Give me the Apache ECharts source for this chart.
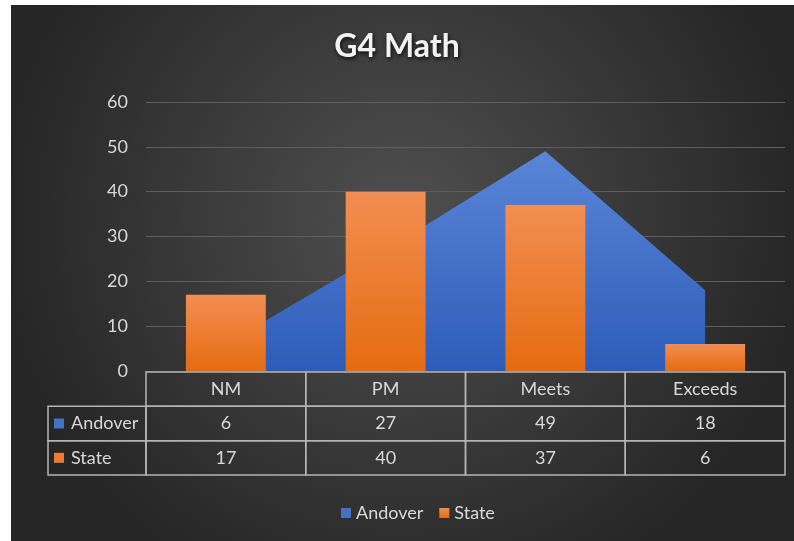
<!DOCTYPE html>
<html>
<head>
<meta charset="utf-8">
<script src="https://cdn.jsdelivr.net/npm/echarts@6/dist/echarts.min.js"></script>
<style>
  html, body { margin: 0; padding: 0; background: #fff; }
  #chart { width: 794px; height: 541px; }
</style>
</head>
<body>
<div id="chart"></div>
<script>
// data
var categories = ['NM', 'PM', 'Meets', 'Exceeds'];
var andover = [6, 27, 49, 18];
var state = [17, 40, 37, 6];
var seriesNames = ['Andover', 'State'];
var seriesColors = ['#4472c4', '#ed7d31'];

var txt = '#d9d9d9';
var font = 'Lato';
var border = '#b4b4b4';

// table cells: row 0 = header, row 1 = Andover, row 2 = State
var cells = [];
categories.forEach(function (c, i) {
  cells.push([i, 0, c]);
  cells.push([i, 1, String(andover[i])]);
  cells.push([i, 2, String(state[i])]);
});
// row label cells sit left of column 0
cells.push([0, 1, seriesNames[0], 'label']);
cells.push([0, 2, seriesNames[1], 'label']);

var chart = echarts.init(document.getElementById('chart'));

chart.setOption({
  backgroundColor: '#fff',
  textStyle: { fontFamily: font },
  graphic: [{
    type: 'rect',
    z: -10,
    silent: true,
    shape: { x: 11, y: 5, width: 783, height: 536 },
    style: {
      fill: new echarts.graphic.RadialGradient(0.5, 0.4, 0.75, [
        { offset: 0, color: '#4f4f4f' },
        { offset: 1, color: '#262626' }
      ])
    }
  }],
  title: {
    text: 'G4 Math',
    left: 'center',
    top: 26,
    textStyle: {
      color: '#f2f2f2',
      fontSize: 32,
      fontWeight: 'bold',
      fontFamily: font,
      textShadowColor: 'rgba(0,0,0,0.8)',
      textShadowBlur: 4,
      textShadowOffsetX: 1,
      textShadowOffsetY: 2
    }
  },
  legend: {
    data: seriesNames,
    left: 336,
    top: 499,
    icon: 'rect',
    itemWidth: 10,
    itemHeight: 10,
    itemGap: 16,
    textStyle: { color: txt, fontSize: 18, fontFamily: font }
  },
  grid: [
    { left: 146, right: 9, top: 102, height: 269 },
    { left: 146, right: 9, top: 372, height: 103 }
  ],
  xAxis: [
    {
      type: 'category',
      data: categories,
      gridIndex: 0,
      axisLine: { show: false },
      axisTick: { show: false },
      axisLabel: { show: false }
    },
    {
      type: 'category',
      data: categories,
      gridIndex: 1,
      axisLine: { show: false },
      axisTick: { show: false },
      axisLabel: { show: false }
    }
  ],
  yAxis: [
    {
      type: 'value',
      gridIndex: 0,
      min: 0,
      max: 60,
      interval: 10,
      axisLine: { show: false },
      axisTick: { show: false },
      axisLabel: { color: txt, fontSize: 18, margin: 18, fontFamily: font },
      splitLine: { lineStyle: { color: '#5e5e5e', width: 1 } }
    },
    {
      type: 'category',
      gridIndex: 1,
      data: ['', seriesNames[0], seriesNames[1]],
      inverse: true,
      show: false
    }
  ],
  series: [
    {
      name: seriesNames[0],
      type: 'line',
      data: andover,
      symbol: 'none',
      itemStyle: { color: seriesColors[0] },
      lineStyle: { opacity: 0 },
      areaStyle: {
        opacity: 1,
        color: new echarts.graphic.LinearGradient(0, 0, 0, 1, [
          { offset: 0, color: '#5a86d8' },
          { offset: 1, color: '#2d5cb8' }
        ])
      },
      z: 2
    },
    {
      name: seriesNames[1],
      type: 'bar',
      data: state,
      barWidth: '50%',
      itemStyle: {
        color: new echarts.graphic.LinearGradient(0, 0, 0, 1, [
          { offset: 0, color: '#f28e52' },
          { offset: 1, color: '#e56b10' }
        ])
      },
      z: 3
    },
    {
      type: 'custom',
      xAxisIndex: 1,
      yAxisIndex: 1,
      silent: true,
      data: cells.map(function (c) { return [c[0], c[1]]; }),
      renderItem: function (params, api) {
        var cell = cells[params.dataIndex];
        var p = api.coord([cell[0], cell[1]]);
        var s = api.size([1, 1]);
        var w = s[0], h = s[1];
        var x = p[0] - w / 2, y = p[1] - h / 2;
        var children = [];
        if (cell[3] === 'label') {
          var lw = 98;
          var lx = x - lw;
          children.push({
            type: 'rect',
            shape: { x: lx, y: y, width: lw, height: h },
            style: { fill: 'none', stroke: border, lineWidth: 1.5 }
          });
          children.push({
            type: 'rect',
            shape: { x: lx + 6, y: p[1] - 5, width: 10, height: 10 },
            style: { fill: seriesColors[cell[1] - 1] }
          });
          children.push({
            type: 'text',
            style: {
              x: lx + 23, y: p[1], text: cell[2],
              fill: txt, font: '18px ' + font,
              textAlign: 'left', textVerticalAlign: 'middle'
            }
          });
        } else {
          children.push({
            type: 'rect',
            shape: { x: x, y: y, width: w, height: h },
            style: { fill: 'none', stroke: border, lineWidth: 1.5 }
          });
          children.push({
            type: 'text',
            style: {
              x: p[0], y: p[1], text: cell[2],
              fill: txt, font: '18px ' + font,
              textAlign: 'center', textVerticalAlign: 'middle'
            }
          });
        }
        return { type: 'group', children: children };
      }
    }
  ]
});
</script>
</body>
</html>
